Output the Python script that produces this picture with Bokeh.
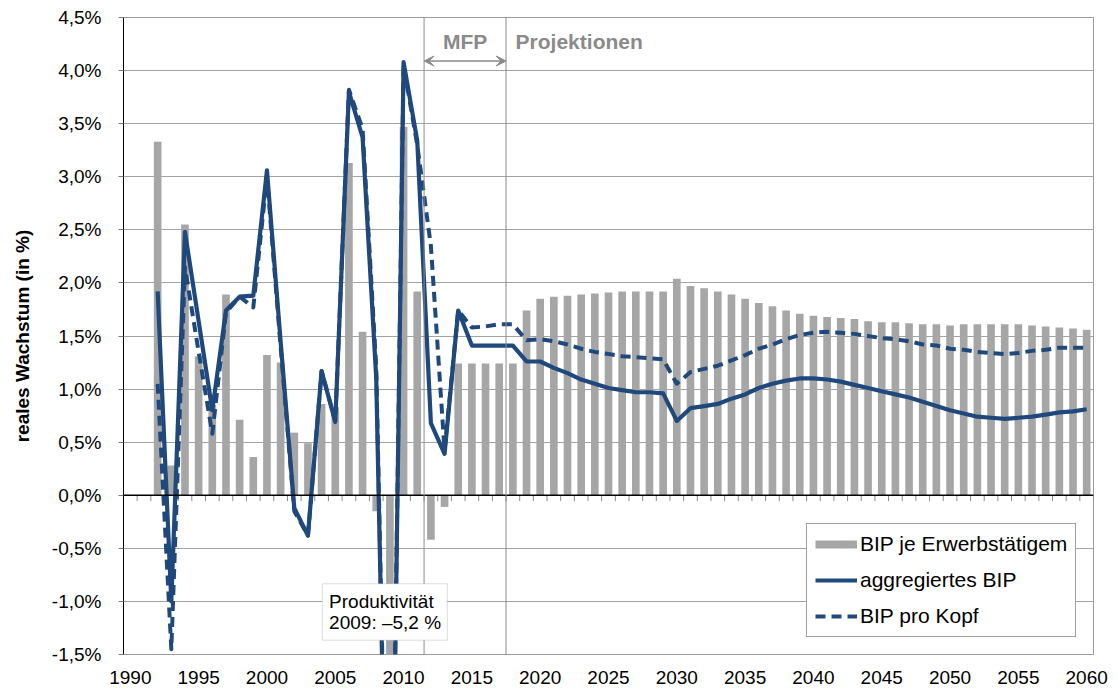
from bokeh.plotting import figure
from bokeh.embed import file_html
from bokeh.resources import INLINE
from bokeh.models import (Range1d, FixedTicker, CustomJSTickFormatter, Span, Arrow,
                          VeeHead, Label, BoxAnnotation, Legend, LegendItem)

# ---------------- data ----------------
years = list(range(1992, 2061))

# BIP je Erwerbstätigem (bars)
bip_je_erwerbstaetigem = [
    3.33, 0.28, 2.55, 1.31, 0.85, 1.89, 0.71, 0.36, 1.32, 1.25,   # 1992-2001
    0.59, 0.49, 0.86, 0.83, 3.13, 1.54, -0.15, -5.2, 3.47, 1.92,  # 2002-2011
    -0.42, -0.11, 1.24, 1.24, 1.24, 1.24, 1.24, 1.74, 1.85, 1.87, # 2012-2021
    1.88, 1.89, 1.90, 1.91, 1.92, 1.92, 1.92, 1.92, 2.04, 1.97,   # 2022-2031
    1.95, 1.92, 1.89, 1.85, 1.81, 1.78, 1.74, 1.71, 1.69, 1.68,   # 2032-2041
    1.67, 1.66, 1.64, 1.63, 1.63, 1.62, 1.61, 1.61, 1.60, 1.61,   # 2042-2051
    1.61, 1.61, 1.61, 1.61, 1.60, 1.59, 1.58, 1.57, 1.56,         # 2052-2060
]

# aggregiertes BIP (solid line)
aggregiertes_bip = [
    1.92, -1.00, 2.48, 1.64, 0.80, 1.74, 1.87, 1.88, 3.06, 1.45,  # 1992-2001
    -0.12, -0.38, 1.17, 0.69, 3.80, 3.37, 1.10, -5.10, 4.08, 3.34,  # 2002-2011
    0.68, 0.39, 1.74, 1.41, 1.41, 1.41, 1.41, 1.26, 1.26, 1.20,   # 2012-2021
    1.15, 1.09, 1.05, 1.01, 0.99, 0.97, 0.97, 0.96, 0.70, 0.82,   # 2022-2031
    0.84, 0.86, 0.91, 0.95, 1.01, 1.05, 1.08, 1.10, 1.10, 1.09,   # 2032-2041
    1.07, 1.04, 1.01, 0.98, 0.95, 0.92, 0.88, 0.84, 0.80, 0.77,   # 2042-2051
    0.74, 0.73, 0.72, 0.73, 0.74, 0.76, 0.78, 0.79, 0.81,         # 2052-2060
]

# BIP pro Kopf (dashed line)
bip_pro_kopf = [
    1.05, -1.45, 2.15, 1.35, 0.58, 1.72, 1.87, 1.77, 3.00, 1.40,  # 1992-2001
    -0.15, -0.38, 1.17, 0.70, 3.82, 3.45, 1.20, -4.90, 4.05, 3.30,  # 2002-2011
    2.35, 0.42, 1.74, 1.58, 1.59, 1.61, 1.61, 1.46, 1.47, 1.45,   # 2012-2021
    1.42, 1.38, 1.35, 1.33, 1.31, 1.30, 1.29, 1.28, 1.05, 1.16,   # 2022-2031
    1.19, 1.22, 1.27, 1.32, 1.38, 1.42, 1.47, 1.51, 1.53, 1.54,   # 2032-2041
    1.53, 1.52, 1.50, 1.48, 1.47, 1.45, 1.42, 1.41, 1.38, 1.37,   # 2042-2051
    1.35, 1.34, 1.33, 1.34, 1.36, 1.37, 1.39, 1.39, 1.39,         # 2052-2060
]

x_first, x_last = 1990, 2060
x_tick_labels = list(range(1990, 2061, 5))
y_ticks = [-1.5, -1.0, -0.5, 0.0, 0.5, 1.0, 1.5, 2.0, 2.5, 3.0, 3.5, 4.0, 4.5]

mfp_years = [2012, 2017]          # Mittelfristige Finanzplanung
projection_start = 2018
series_names = ["BIP je Erwerbstätigem", "aggregiertes BIP", "BIP pro Kopf"]
note_text = ["Produktivität", "2009: –5,2 %"]

# ---------------- styles ----------------
FONT = "Liberation Sans"
BLUE = "#1f497d"
BAR_GRAY = "#a6a6a6"
GRID = "#a3a3a3"
TXT_GRAY = "#8a8a8a"

p = figure(width=1110, height=690, output_backend="svg", toolbar_location=None,
           x_range=Range1d(x_first - 0.5, x_last + 0.5), y_range=Range1d(-1.5, 4.5),
           min_border_left=123, min_border_right=17, min_border_top=17, min_border_bottom=36)
p.background_fill_color = "white"
p.border_fill_color = "white"
p.outline_line_color = "#9a9a9a"

# axes
p.xaxis.ticker = FixedTicker(ticks=x_tick_labels)
p.xaxis.major_tick_line_color = None
p.xaxis.minor_tick_line_color = None
p.xaxis.axis_line_color = None
p.xaxis.major_label_text_font = FONT
p.xaxis.major_label_text_font_size = "19px"
p.xaxis.major_label_text_color = "black"
p.xaxis.major_label_standoff = 10

p.yaxis.ticker = FixedTicker(ticks=y_ticks)
p.yaxis.formatter = CustomJSTickFormatter(code="return tick.toFixed(1).replace('.', ',') + '%';")
p.yaxis.axis_line_color = "black"
p.yaxis.axis_line_width = 1
p.yaxis.major_tick_in = 0
p.yaxis.major_tick_out = 5
p.yaxis.major_tick_line_color = "#7a7a7a"
p.yaxis.minor_tick_line_color = None
p.yaxis.major_label_text_font = FONT
p.yaxis.major_label_text_font_size = "19px"
p.yaxis.major_label_text_color = "black"
p.yaxis.major_label_standoff = 17
p.yaxis.axis_label = "reales Wachstum (in %)"
p.yaxis.axis_label_text_font = FONT
p.yaxis.axis_label_text_font_size = "19px"
p.yaxis.axis_label_text_font_style = "bold"
p.yaxis.axis_label_text_color = "black"
p.yaxis.axis_label_standoff = 16

p.xgrid.grid_line_color = None
p.ygrid.ticker = FixedTicker(ticks=y_ticks)
p.ygrid.grid_line_color = GRID
p.ygrid.grid_line_width = 1

# bars
p.vbar(x=years, top=bip_je_erwerbstaetigem, bottom=0, width=0.56,
       fill_color=BAR_GRAY, line_color=None)
# legend swatch for bars (thin strip like the original); its point is NaN so nothing is drawn
r_bar_leg = p.line(x=[years[0]], y=[float("nan")], line_color=BAR_GRAY, line_width=8)

# zero axis line + category tick marks
p.add_layout(Span(location=0, dimension="width", line_color="black", line_width=1.5))
bounds = [y - 0.5 for y in range(x_first, x_last + 2)]
p.segment(x0=bounds, x1=bounds, y0=[0] * len(bounds), y1=[-0.055] * len(bounds),
          line_color="#8a8a8a", line_width=1)

# MFP / projection separators
for xb in (mfp_years[0] - 0.5, mfp_years[1] + 0.5):
    p.add_layout(Span(location=xb, dimension="height", line_color="#8c8c8c", line_width=1))

# lines
r_solid = p.line(years, aggregiertes_bip, line_color=BLUE, line_width=4.2, line_join="round")
r_dash = p.line(years, bip_pro_kopf, line_color=BLUE, line_width=4, line_dash="10 6",
                line_join="round")

# arrow and header texts
p.add_layout(Arrow(x_start=mfp_years[0] - 0.5, x_end=mfp_years[1] + 0.5, y_start=4.09, y_end=4.09,
                   start=VeeHead(size=10, line_color=TXT_GRAY, fill_color=TXT_GRAY, line_width=1),
                   end=VeeHead(size=10, line_color=TXT_GRAY, fill_color=TXT_GRAY, line_width=1),
                   line_color=TXT_GRAY, line_width=1.5))
p.add_layout(Label(x=(mfp_years[0] + mfp_years[1]) / 2, y=4.27, text="MFP", text_align="center",
                   text_baseline="middle", text_font=FONT, text_font_style="bold",
                   text_font_size="21px", text_color=TXT_GRAY))
p.add_layout(Label(x=projection_start + 0.2, y=4.27, text="Projektionen", text_align="left",
                   text_baseline="middle", text_font=FONT, text_font_style="bold",
                   text_font_size="21px", text_color=TXT_GRAY))

# annotation box
p.add_layout(BoxAnnotation(left=2004.05, right=2013.2, top=-0.834, bottom=-1.365,
                           fill_color="white", fill_alpha=1, line_color="#8c8c8c", line_width=1))
p.add_layout(Label(x=2004.55, y=-1.004, text=note_text[0], text_baseline="middle",
                   text_font=FONT, text_font_size="19px", text_color="black"))
p.add_layout(Label(x=2004.55, y=-1.202, text=note_text[1], text_baseline="middle",
                   text_font=FONT, text_font_size="19px", text_color="black"))

# legend
legend = Legend(items=[LegendItem(label=series_names[0], renderers=[r_bar_leg]),
                       LegendItem(label=series_names[1], renderers=[r_solid]),
                       LegendItem(label=series_names[2], renderers=[r_dash])],
                location=(683, 17), label_text_font=FONT, label_text_font_size="21px",
                label_text_color="black", glyph_width=42, glyph_height=22, label_height=22,
                spacing=12, padding=8, margin=0, label_standoff=3,
                border_line_color="#404040", border_line_width=1,
                background_fill_color="white", background_fill_alpha=1)
p.add_layout(legend)

open("out.html", "w").write(file_html(p, INLINE))
